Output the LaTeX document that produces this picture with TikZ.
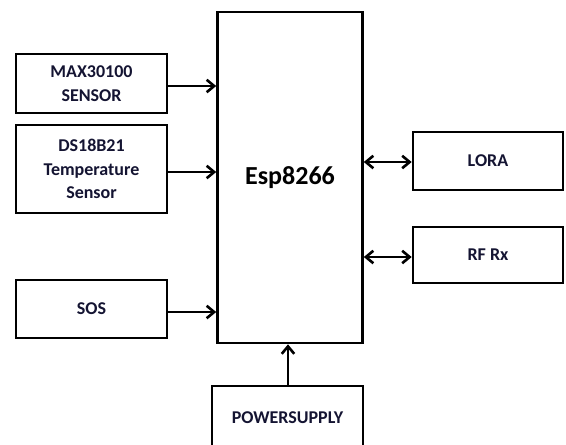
\documentclass[tikz,border=0pt]{standalone}
\usepackage{fontspec}
\setmainfont{Carlito}
\usetikzlibrary{arrows.meta}
\definecolor{txt}{RGB}{20,20,50}
\begin{document}
\begin{tikzpicture}[x=1pt,y=-1pt,
  blk/.style={draw=black,line width=2.6pt,fill=white,align=center,font=\bfseries\fontsize{18}{23.5}\selectfont,text=txt,inner sep=0pt},
  tip/.style={Straight Barb[length=7.5pt,width=12.5pt,line width=2.6pt]},
  conn/.style={line width=2.6pt,-{Straight Barb[length=7.5pt,width=12.5pt,line width=2.6pt]}},
  bconn/.style={line width=2.6pt,{Straight Barb[length=7.5pt,width=12.5pt,line width=2.6pt]}-{Straight Barb[length=7.5pt,width=12.5pt,line width=2.6pt]}}]
\useasboundingbox (0,0) rectangle (566,445);
\node[blk,minimum width=145pt,minimum height=331pt,font=\bfseries\fontsize{26}{30}\selectfont,text=black] (esp) at (290,177.5) {Esp8266};
\node[blk,minimum width=151pt,minimum height=59pt] (max) at (91.5,83.5) {MAX30100\\SENSOR};
\node[blk,minimum width=151pt,minimum height=88pt] (ds) at (91.5,169) {DS18B21\\Temperature\\Sensor};
\node[blk,minimum width=151pt,minimum height=58pt] (sos) at (91.5,309) {SOS};
\node[blk,minimum width=150pt,minimum height=58pt] (lora) at (488,161) {LORA};
\node[blk,minimum width=150pt,minimum height=56pt] (rf) at (488,255) {RF Rx};
\node[blk,minimum width=151pt,minimum height=64pt] (pw) at (287.5,418) {POWERSUPPLY};
\draw[conn] (max.east |- 0,86) -- (esp.west |- 0,86);
\draw[conn] (ds.east |- 0,172) -- (esp.west |- 0,172);
\draw[conn] (sos.east |- 0,312) -- (esp.west |- 0,312);
\draw[bconn] (esp.east |- 0,162) -- (lora.west |- 0,162);
\draw[bconn] (esp.east |- 0,257) -- (rf.west |- 0,257);
\draw[conn] (pw.north -| 288,0) -- (esp.south -| 288,0);
\end{tikzpicture}
\end{document}
